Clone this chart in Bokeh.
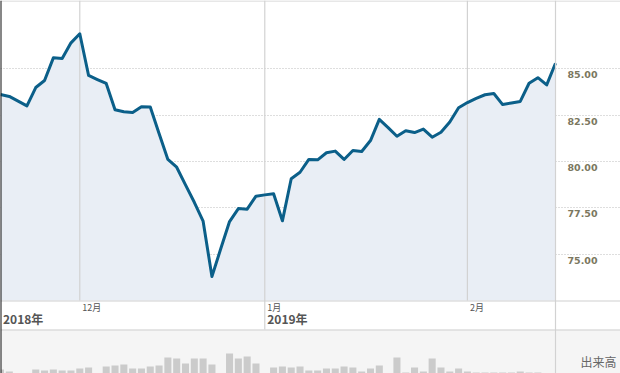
from bokeh.plotting import figure
from bokeh.models import Range1d, Span, Grid, FixedTicker
from bokeh.core.properties import value
from bokeh.embed import file_html
from bokeh.resources import INLINE

# ---- data ----
prices = [83.61, 83.51, 83.26, 83.00, 83.99, 84.37, 85.59, 85.56, 86.40, 86.89,
          84.64, 84.42, 84.21, 82.79, 82.68, 82.64, 82.95, 82.94, 81.51, 80.11,
          79.69, 78.74, 77.80, 76.78, 73.80, 75.29, 76.76, 77.46, 77.43, 78.13,
          78.20, 78.26, 76.80, 79.07, 79.42, 80.11, 80.09, 80.47, 80.56, 80.11,
          80.59, 80.54, 81.13, 82.27, 81.83, 81.36, 81.66, 81.56, 81.75, 81.31,
          81.58, 82.13, 82.90, 83.18, 83.41, 83.60, 83.67, 83.07, 83.16, 83.24,
          84.22, 84.52, 84.13, 85.30]
volumes = [240, 220, 180, 180, 240, 230, 240, 230, 230, 250,
           260, 180, 270, 280, 290, 250, 250, 270, 280, 360,
           350, 300, 350, 350, 290, 180, 400, 350, 370, 300,
           180, 260, 270, 260, 270, 230, 230, 250, 250, 270,
           260, 220, 250, 280, 180, 360, 210, 260, 220, 350,
           260, 220, 250, 220, 210, 210, 210, 210, 210, 220,
           210, 210, 180, 205]
price_ticks = [75.0, 77.5, 80.0, 82.5, 85.0]
month_ticks = [9, 30, 53]
month_labels = ["12月", "1月", "2月"]
year_ticks = [0, 30]
year_labels = ["2018年", "2019年"]
volume_label = "出来高"

idx = list(range(len(prices)))
last = idx[-1]

# ---- layout helpers (pixels -> data) ----
W, H = 620, 373
PX = 555.0 / last            # pixels per trading day
def xv(px):
    return px / PX
Y85, PPU = 68.3, 18.54       # pixel row of 85.00, pixels per price unit
def yv(py):
    return 85.0 - (py - Y85) / PPU

CHART_BOTTOM = yv(300)
VOL_TOP = yv(329)

p = figure(width=W, height=H, output_backend="svg", toolbar_location=None,
           x_range=Range1d(0, xv(W)), y_range=Range1d(yv(H), yv(0)),
           x_axis_location=None, y_axis_location=None,
           min_border=0, min_border_left=0, min_border_right=0,
           min_border_top=0, min_border_bottom=0)
p.outline_line_color = None
p.grid.visible = False
p.background_fill_color = "white"
p.border_fill_color = "white"

# volume range: bars rise from a baseline hidden below the window
p.extra_y_ranges = {"vol": Range1d(200, 200 + H * 10)}

# volume panel background
p.quad(left=[0], right=[xv(W)], bottom=[yv(H + 5)], top=[VOL_TOP],
       fill_color="#f5f5f5", line_color=None)

# price area fill and horizontal dotted grid
p.varea(x=idx, y1=CHART_BOTTOM, y2=prices, fill_color="#e9eef5")
p.add_layout(Grid(dimension=1, ticker=FixedTicker(ticks=price_ticks),
                  grid_line_color="#bdbdbd", grid_line_dash="1 2",
                  grid_line_width=1))

# vertical month lines
for t in month_ticks:
    y0 = VOL_TOP if t in year_ticks else CHART_BOTTOM
    p.segment(x0=[t], y0=[y0], x1=[t], y1=[yv(0)],
              line_color="#d2d2d2", line_width=1.2)
p.add_layout(Span(location=last, dimension="height",
                  line_color="#d2d2d2", line_width=1.2))

# horizontal separators
for py in (0.5, 300.5, 329.5):
    p.add_layout(Span(location=yv(py), dimension="width",
                      line_color="#d0d0d0", line_width=1.2))
p.add_layout(Span(location=0, dimension="height",
                  line_color="#111111", line_width=2))

# volume bars
p.vbar(x=idx, top=volumes, bottom=0, width=0.8, y_range_name="vol",
       fill_color="#cbcbcb", line_color=None)

# price line
p.line(idx, prices, line_color="#0b5f89", line_width=3, line_join="round")

# price tick labels (right side)
p.text(x=[xv(567)] * len(price_ticks), y=[t - 6 / PPU for t in price_ticks],
       text=[f"{t:.2f}" for t in price_ticks],
       text_font=value("DejaVu Sans"), text_font_style="bold",
       text_font_size="9.5px", text_color="#7b7760",
       text_align="left", text_baseline="middle")

# month / year labels
p.text(x=[t + xv(2.5) for t in month_ticks], y=[yv(306.7)] * len(month_ticks),
       text=month_labels, text_font=value("Noto Sans CJK JP"),
       text_font_size="9px", text_color="#555555",
       text_align="left", text_baseline="middle")
p.text(x=[t + xv(2.5) for t in year_ticks], y=[yv(318)] * len(year_ticks),
       text=year_labels, text_font=value("Noto Sans CJK JP"),
       text_font_style="bold", text_font_size="12px", text_color="#555555",
       text_align="left", text_baseline="middle")

# volume label
p.text(x=[xv(580)], y=[yv(360.5)], text=[volume_label],
       text_font=value("Noto Sans CJK JP"), text_font_size="12px",
       text_color="#666666", text_align="left", text_baseline="middle")

open("out.html", "w").write(file_html(p, INLINE))
